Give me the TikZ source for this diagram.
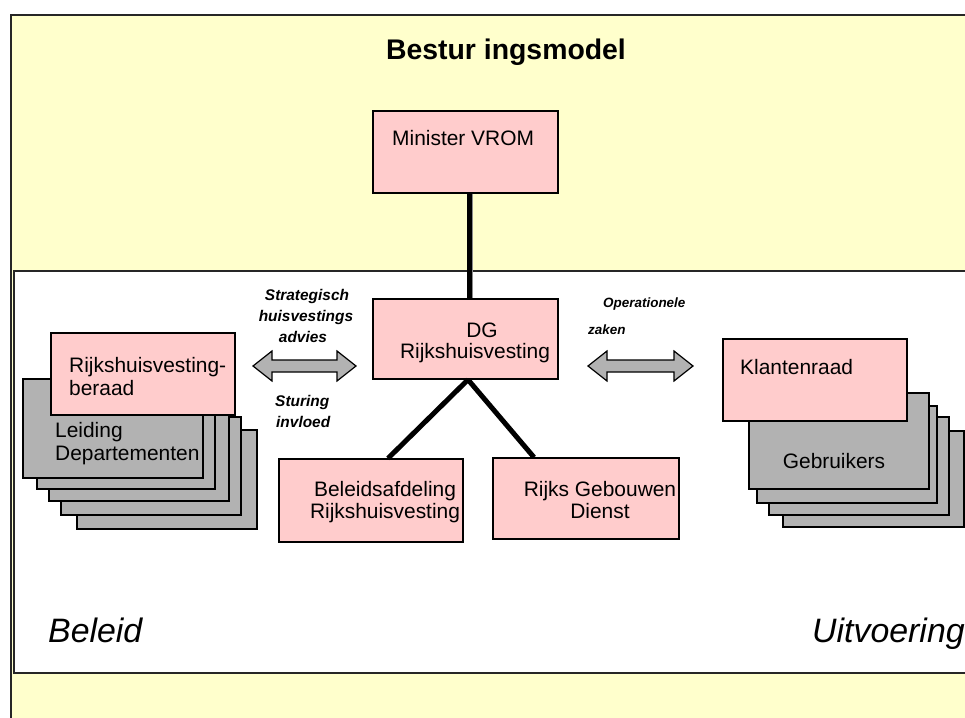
\documentclass[tikz,border=0pt]{standalone}
\usepackage{fontspec}
\setmainfont{Liberation Sans}
\definecolor{bgyellow}{HTML}{FFFFCC}
\definecolor{boxpink}{HTML}{FFCCCC}
\definecolor{boxgray}{HTML}{B2B2B2}
\tikzset{
  pinkbox/.style={draw=black, fill=boxpink, line width=1.3bp, inner sep=0pt},
  graybox/.style={draw=black, fill=boxgray, line width=1.3bp, inner sep=0pt},
  txt/.style={inner sep=0pt, font=\fontsize{21}{23}\selectfont},
  lbl/.style={inner sep=0pt, font=\fontsize{15.5}{18}\selectfont\bfseries\itshape},
  lbls/.style={inner sep=0pt, font=\fontsize{13.5}{16}\selectfont\bfseries\itshape},
  corner/.style={inner sep=0pt, font=\fontsize{34}{38}\selectfont\itshape},
  conn/.style={line width=5bp, black},
  dblarrow/.style={draw=black, fill=boxgray, line width=1.2bp, line join=miter}
}
\begin{document}
\begin{tikzpicture}[x=1bp, y=-1bp]
\useasboundingbox (0,0) rectangle (965,718);
\fill[white] (0,0) rectangle (965,718);
\clip (0,0) rectangle (965,718);
% frames
\draw[fill=bgyellow, line width=2.2bp, draw=black!85] (11,15) rectangle (990,740);
\draw[fill=white, line width=2bp, draw=black!85] (14,271) rectangle (990,673);
% title
\node[inner sep=0pt, anchor=base, font=\fontsize{28.5}{32}\selectfont\bfseries] (title) at (506,60) {Bestur ingsmodel};
% main boxes
\node[pinkbox, minimum width=185bp, minimum height=82bp] (min) at (465.5,152) {};
\node[pinkbox, minimum width=185bp, minimum height=80bp] (dg) at (465.5,339) {};
\node[pinkbox, minimum width=184bp, minimum height=83bp] (ba) at (371,500.5) {};
\node[pinkbox, minimum width=186bp, minimum height=81bp] (rgd) at (586,498.5) {};
% connectors
\draw[conn, draw=black!45] ([xshift=5bp]min.south) -- ([xshift=5bp]dg.north);
\draw[conn] ([xshift=3.5bp]min.south) -- ([xshift=3.5bp]dg.north);
\draw[conn] ([xshift=2.5bp]dg.south) -- ([xshift=17bp]ba.north);
\draw[conn] ([xshift=2.5bp]dg.south) -- ([xshift=-52bp]rgd.north);
% texts of main boxes
\node[txt, anchor=base west] (tmin) at (392,146) {Minister VROM};
\node[txt, anchor=base] (tdg1) at (482,337) {DG};
\node[txt, anchor=base] (tdg2) at (475,358) {Rijkshuisvesting};
\node[txt, anchor=base] (tba1) at (385,496) {Beleidsafdeling};
\node[txt, anchor=base] (tba2) at (385,518) {Rijkshuisvesting};
\node[txt, anchor=base] (trg1) at (600,496) {Rijks Gebouwen};
\node[txt, anchor=base] (trg2) at (600,518) {Dienst};
% left stack
\node[graybox, minimum width=180bp, minimum height=99bp] (ld5) at (167,479.5) {};
\node[graybox, minimum width=180bp, minimum height=98bp] (ld4) at (151,466) {};
\node[graybox, minimum width=180bp, minimum height=98bp] (ld3) at (139,452) {};
\node[graybox, minimum width=178bp, minimum height=98bp] (ld2) at (126,440) {};
\node[graybox, minimum width=180bp, minimum height=99bp] (ld1) at (113,428.5) {};
\node[txt, anchor=base west] (tld1) at (55,437) {Leiding};
\node[txt, anchor=base west] (tld2) at (55,460) {Departementen};
\node[pinkbox, minimum width=184bp, minimum height=82bp] (rb) at (143,374) {};
\node[txt, anchor=base west] (trb1) at (69,372) {Rijkshuisvesting-};
\node[txt, anchor=base west] (trb2) at (69,395) {beraad};
% right stack
\node[graybox, minimum width=181bp, minimum height=96bp] (gb4) at (873.5,479) {};
\node[graybox, minimum width=180bp, minimum height=98bp] (gb3) at (859,466) {};
\node[graybox, minimum width=180bp, minimum height=97bp] (gb2) at (847,454.5) {};
\node[graybox, minimum width=180bp, minimum height=96bp] (gb1) at (839,441) {};
\node[txt, anchor=base] (tgb) at (834,468) {Gebruikers};
\node[pinkbox, minimum width=184bp, minimum height=82bp] (kr) at (815,380) {};
\node[txt, anchor=base west] (tkr) at (740,374) {Klantenraad};
% double arrows
\draw[dblarrow] (253,366) -- (272,351) -- (272,360) -- (337,360) -- (337,351) -- (356,366) -- (337,381) -- (337,372) -- (272,372) -- (272,381) -- cycle;
\draw[dblarrow] (588,366) -- (607,351) -- (607,360) -- (674,360) -- (674,351) -- (693,366) -- (674,381) -- (674,372) -- (607,372) -- (607,381) -- cycle;
% arrow labels
\node[lbl, anchor=base] (l1) at (307,300) {Strategisch};
\node[lbl, anchor=base] (l2) at (306,321) {huisvestings};
\node[lbl, anchor=base] (l3) at (303,342) {advies};
\node[lbl, anchor=base west] (l4) at (275,406) {Sturing};
\node[lbl, anchor=base west] (l5) at (276,427) {invloed};
\node[lbls, anchor=base west] (l6) at (603,307) {Operationele};
\node[lbls, anchor=base west] (l7) at (588,334) {zaken};
% corner labels
\node[corner, anchor=base west] (beleid) at (48,642) {Beleid};
\node[corner, anchor=base west] (uitv) at (812,642) {Uitvoering};
\end{tikzpicture}
\end{document}
